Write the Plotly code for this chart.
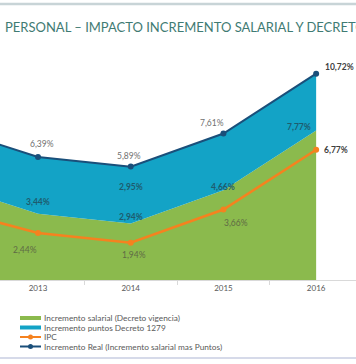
import plotly.graph_objects as go

# ---- data ----
years = ["2012", "2013", "2014", "2015", "2016"]
salarial = [5.00, 3.44, 2.94, 4.66, 7.77]      # Incremento salarial (Decreto vigencia)
puntos = [2.95, 2.95, 2.95, 2.95, 2.95]        # Incremento puntos Decreto 1279
ipc = [3.73, 2.44, 1.94, 3.66, 6.77]           # IPC
real = [7.95, 6.39, 5.89, 7.61, 10.72]         # Incremento Real
legend_names = ["Incremento salarial (Decreto vigencia)",
                "Incremento puntos Decreto 1279",
                "IPC",
                "Incremento Real (Incremento salarial mas Puntos)"]
title_text = "PERSONAL – IMPACTO INCREMENTO SALARIAL Y DECRETO 1279"

GREEN = "#8bba4d"
BLUE = "#13a3c6"
NAVY = "#1a4f7a"
ORANGE = "#f5821f"
FONT = "Lato"

W, H = 356, 364
TOP, BOT = 50, 280  # plot area pixel rows


def py(ypx):
    return (BOT - ypx) / (BOT - TOP)


def px(xpx):
    return xpx / W


def fmt(v):
    return f"{v:.2f}%".replace(".", ",")


fig = go.Figure()
fig.add_trace(go.Scatter(x=years, y=salarial, name=legend_names[0], stackgroup="a",
                         mode="none", fillcolor=GREEN, showlegend=False))
fig.add_trace(go.Scatter(x=years, y=puntos, name=legend_names[1], stackgroup="a",
                         mode="none", fillcolor=BLUE, showlegend=False))
fig.add_trace(go.Scatter(x=years, y=ipc, name=legend_names[2], mode="lines+markers",
                         line=dict(color=ORANGE, width=2.5),
                         marker=dict(size=6, color=ORANGE), showlegend=False))
fig.add_trace(go.Scatter(x=years, y=real, name=legend_names[3], mode="lines+markers",
                         line=dict(color=NAVY, width=2),
                         marker=dict(size=6, color=NAVY), showlegend=False))

annots = []
# navy labels (index 1..4); x given as category index
navy_off = {1: (4, 13, "center"), 2: (-2, 11, "center"), 3: (-11, 11, "center"), 4: (7, 7, "left")}
for i, (dx, dy, anc) in navy_off.items():
    bold = i == 4
    annots.append(dict(x=i, y=real[i], xref="x", yref="y",
                       text=("<b>%s</b>" % fmt(real[i])) if bold else fmt(real[i]),
                       showarrow=False, xanchor=anc, yanchor="middle", xshift=dx, yshift=dy,
                       font=dict(family=FONT, size=8.5, color="#404040" if bold else "#707070")))
# orange labels
ipc_off = {1: (-13, -17, "center"), 2: (3, -12, "center"), 3: (13, -13, "center"), 4: (6, 0, "left")}
for i, (dx, dy, anc) in ipc_off.items():
    bold = i == 4
    annots.append(dict(x=i, y=ipc[i], xref="x", yref="y",
                       text=("<b>%s</b>" % fmt(ipc[i])) if bold else fmt(ipc[i]),
                       showarrow=False, xanchor=anc, yanchor="middle", xshift=dx, yshift=dy,
                       font=dict(family=FONT, size=8.5, color="#404040" if bold else "#5f6a45")))
# green labels
sal_off = {1: (0, 12, "center"), 2: (0, 6, "center"), 3: (0, 3, "center"), 4: (-3, 3, "right")}
for i, (dx, dy, anc) in sal_off.items():
    annots.append(dict(x=i, y=salarial[i], xref="x", yref="y", text="<b>%s</b>" % fmt(salarial[i]),
                       showarrow=False, xanchor=anc, yanchor="middle", xshift=dx, yshift=dy,
                       font=dict(family=FONT, size=8.5, color="#1e5c6e")))
# blue label at 2014
annots.append(dict(x=2, y=salarial[2] + puntos[2] / 2, xref="x", yref="y",
                   text="<b>%s</b>" % fmt(puntos[2]), showarrow=False, xanchor="center",
                   yanchor="middle", yshift=8, font=dict(family=FONT, size=8.5, color="#1e5c6e")))

# title
annots.append(dict(x=px(3), y=py(27), xref="paper", yref="paper", text=title_text,
                   showarrow=False, xanchor="left", yanchor="middle",
                   font=dict(family=FONT, size=13, color="#3f7b73")))

shapes = [
    dict(type="line", xref="paper", yref="paper", x0=0, x1=1, y0=py(4), y1=py(4),
         line=dict(color="#c8d4d7", width=2.5)),
    dict(type="line", xref="paper", yref="paper", x0=0, x1=1, y0=py(358), y1=py(358),
         line=dict(color="#c9cee2", width=1.5)),
]

# manual legend
leg_y = [318, 327.5, 337, 346.5]
sx0, sx1 = 20, 41
shapes.append(dict(type="rect", xref="paper", yref="paper", x0=px(sx0), x1=px(sx1),
                   y0=py(leg_y[0] - 2), y1=py(leg_y[0] + 2), fillcolor=GREEN, line=dict(width=0)))
shapes.append(dict(type="rect", xref="paper", yref="paper", x0=px(sx0), x1=px(sx1),
                   y0=py(leg_y[1] - 2), y1=py(leg_y[1] + 2), fillcolor=BLUE, line=dict(width=0)))
for k, col in ((2, ORANGE), (3, NAVY)):
    shapes.append(dict(type="line", xref="paper", yref="paper", x0=px(sx0), x1=px(sx1),
                       y0=py(leg_y[k]), y1=py(leg_y[k]), line=dict(color=col, width=2)))
    shapes.append(dict(type="circle", xref="paper", yref="paper", x0=px(28), x1=px(33),
                       y0=py(leg_y[k] - 2.5), y1=py(leg_y[k] + 2.5), fillcolor=col, line=dict(width=0)))
for k, name in enumerate(legend_names):
    annots.append(dict(x=px(42), y=py(leg_y[k]), xref="paper", yref="paper", text=name,
                       showarrow=False, xanchor="left", yanchor="middle",
                       font=dict(family=FONT, size=8.3, color="#595959")))

fig.update_layout(
    width=W, height=H,
    margin=dict(l=0, r=0, t=TOP, b=H - BOT, pad=0),
    paper_bgcolor="white", plot_bgcolor="white",
    showlegend=False,
    annotations=annots, shapes=shapes,
    xaxis=dict(type="category", range=[0.59, 4.43], showgrid=False, zeroline=False,
               showline=True, linecolor="#d9d9d9", linewidth=1,
               ticks="outside", tickson="boundaries", ticklen=4, tickcolor="#d9d9d9",
               tickfont=dict(family=FONT, size=8, color="#595959")),
    yaxis=dict(range=[0, (BOT - TOP) / 19.25], visible=False),
)

fig.write_html("out.html", config={"displayModeBar": False},
               post_script="document.body.style.margin='0';document.body.style.overflow='hidden';")
